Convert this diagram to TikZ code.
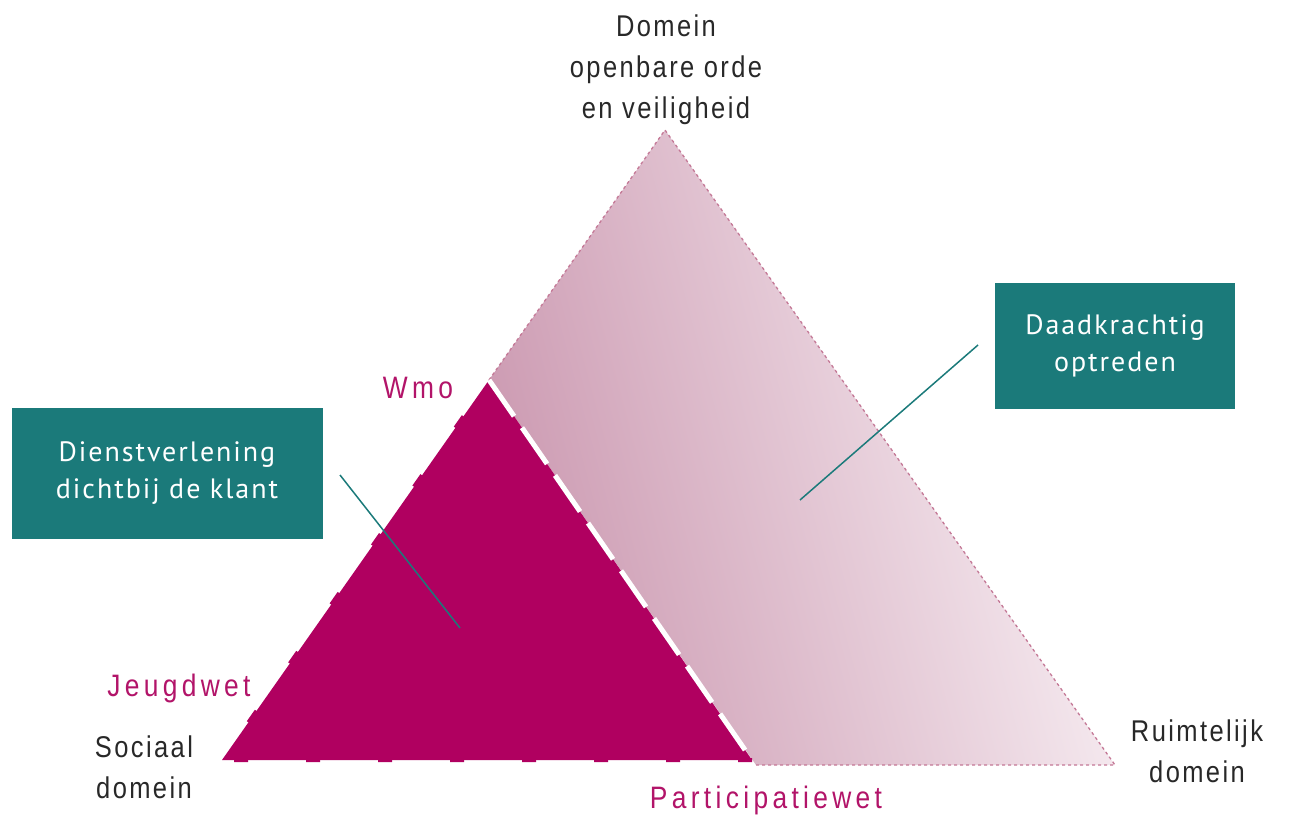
\documentclass[tikz,border=0pt]{standalone}
\usepackage{fontspec}
\setmainfont{Liberation Sans}[LetterSpace=8, FakeStretch=0.85]
\newfontfamily\magfont{Liberation Sans}[LetterSpace=14, FakeStretch=0.85]
\newfontfamily\boxfont{PT Sans}[LetterSpace=7]
\definecolor{magentaT}{RGB}{176,0,96}
\definecolor{magentaL}{RGB}{178,20,105}
\definecolor{tealB}{RGB}{27,122,122}
\definecolor{pinkDark}{RGB}{203,152,176}
\definecolor{pinkLight}{RGB}{251,245,248}
\definecolor{pinkEdge}{RGB}{196,120,150}
\definecolor{labelgray}{RGB}{40,40,40}
\tikzset{
  lbl/.style={text=labelgray, font=\fontsize{30}{41}\selectfont, align=center, inner sep=0pt},
  mlbl/.style={text=magentaL, font=\magfont\fontsize{31}{30}\selectfont, inner sep=0pt},
  tealbox/.style={fill=tealB, text=white, font=\boxfont\fontsize{28}{37}\selectfont, align=center, inner sep=0pt},
  conn/.style={draw=tealB, line width=1.5pt},
  outeredge/.style={draw=pinkEdge, line width=1.3pt, dash pattern=on 3pt off 3pt},
}
\begin{document}
\begin{tikzpicture}[x=1pt,y=-1pt]
\useasboundingbox (0,0) rectangle (1290,818);
% big triangle corners
\coordinate (A) at (665,130);
\coordinate (B) at (1115,765);
% magenta triangle
\coordinate (M1) at (489,380);
\coordinate (M2) at (222,760);
\coordinate (M3) at (752,760);
\coordinate (C) at (756,765);
% light region
\shade[left color=pinkDark, right color=pinkLight, shading angle=105] (A) -- (B) -- (C) -- (M1) -- cycle;
\draw[outeredge] (M1) -- (A) -- (B) -- (C);
% magenta region
\fill[magentaT] (M1) -- (M2) -- (M3) -- cycle;
\draw[magentaT, line width=4pt, line join=round, dash pattern=on 14pt off 58pt] (M3) -- (M2) -- (M1);
\draw[white, line width=5pt, dash pattern=on 44pt off 14pt] (M1) -- (M3);
% boxes
\node[tealbox, minimum width=311pt, minimum height=131pt] (dienst) at (167,473) {Dienstverlening\\dichtbij de klant};
\node[tealbox, minimum width=240pt, minimum height=125pt] (daad) at (1115,346) {Daadkrachtig\\optreden};
% connectors
\coordinate (c1a) at (340,475);
\coordinate (c1b) at (460,628);
\coordinate (c2a) at (978,345);
\coordinate (c2b) at (800,500);
\draw[conn] (c1a) -- (c1b);
\draw[conn] (c2a) -- (c2b);
% labels
\node[lbl] (top) at (666,70) {Domein\\openbare orde\\en veiligheid};
\node[lbl] (sociaal) at (144,767) {Sociaal\\domein};
\node[lbl] (ruimte) at (1197,751) {Ruimtelijk\\domein};
\node[mlbl] (wmo) at (418,388) {Wmo};
\node[mlbl] (jeugd) at (179,688) {Jeugdwet};
\node[mlbl] (part) at (766,800) {Participatiewet};
\end{tikzpicture}
\end{document}
